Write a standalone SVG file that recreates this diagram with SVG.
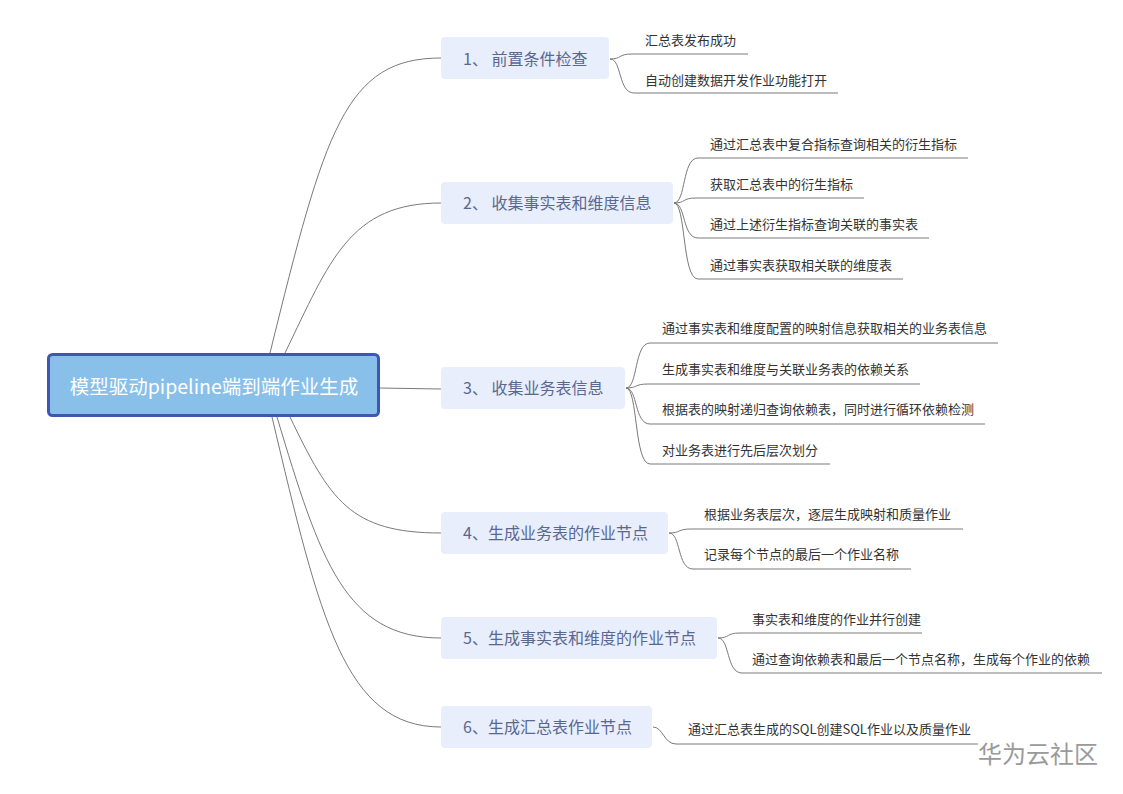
<svg xmlns="http://www.w3.org/2000/svg" width="1123" height="794" viewBox="0 0 1123 794">
<style>
.conn{fill:none;stroke:#7a7a7a;stroke-width:1}
.br rect{fill:#e8eefb}
.br text{font-family:"Noto Sans CJK SC","Noto Sans",sans-serif;font-size:16px;fill:#5a6891}
.leaf{font-family:"Noto Sans CJK SC","Noto Sans",sans-serif;font-size:13px;fill:#333}
</style>
<rect width="1123" height="794" fill="#ffffff"/>
<g id="connectors">
<path class="conn" d="M270,353 C325,130 345,58 441,58"/>
<path class="conn" d="M285,353 C330,260 350,203 441,203"/>
<path class="conn" d="M379,388 L441,389"/>
<path class="conn" d="M290,417 C330,500 350,533 441,533"/>
<path class="conn" d="M277,417 C320,560 345,638 441,638"/>
<path class="conn" d="M272,417 C320,620 345,727 441,727"/>
<path class="conn" d="M610,59 C622,59 618,54 632,54 L748,54"/>
<path class="conn" d="M610,59 C622,59 618,93 634,93 L838,93"/>
<path class="conn" d="M674,203 C686,203 682,158 698,158 L968,158"/>
<path class="conn" d="M674,203 C686,203 682,198 696,198 L864,198"/>
<path class="conn" d="M674,203 C686,203 682,238 698,238 L929,238"/>
<path class="conn" d="M674,203 C686,203 682,279 698,279 L903,279"/>
<path class="conn" d="M626,388 C638,388 634,343 650,343 L998,343"/>
<path class="conn" d="M626,388 C638,388 634,384 648,384 L920,384"/>
<path class="conn" d="M626,388 C638,388 634,424 650,424 L985,424"/>
<path class="conn" d="M626,388 C638,388 634,464 650,464 L830,464"/>
<path class="conn" d="M669,533 C681,533 677,529 691,529 L963,529"/>
<path class="conn" d="M669,533 C681,533 677,569 693,569 L911,569"/>
<path class="conn" d="M718,638 C730,638 726,633 740,633 L922,633"/>
<path class="conn" d="M718,638 C730,638 726,673 742,673 L1102,673"/>
<path class="conn" d="M653,727 C663,727 664,744 676,744 L978,744"/>
</g>
<g id="root">
<rect x="48.5" y="354.5" width="330" height="61" rx="4" fill="#88c0ea" stroke="#3f56b4" stroke-width="3"/>
<text x="214" y="394" text-anchor="middle" font-family="Noto Sans CJK SC,Noto Sans,sans-serif" font-size="19.5" fill="#ffffff">模型驱动pipeline端到端作业生成</text>
</g>
<g id="n1" class="br"><rect x="441" y="37" width="168" height="42" rx="4"/><text x="463" y="65">1、 前置条件检查</text></g>
<g id="n1a"><text class="leaf" x="645" y="45">汇总表发布成功</text></g>
<g id="n1b"><text class="leaf" x="645" y="85">自动创建数据开发作业功能打开</text></g>
<g id="n2" class="br"><rect x="441" y="182" width="232" height="42" rx="4"/><text x="463" y="209">2、 收集事实表和维度信息</text></g>
<g id="n2a"><text class="leaf" x="710" y="149">通过汇总表中复合指标查询相关的衍生指标</text></g>
<g id="n2b"><text class="leaf" x="710" y="189">获取汇总表中的衍生指标</text></g>
<g id="n2c"><text class="leaf" x="710" y="229">通过上述衍生指标查询关联的事实表</text></g>
<g id="n2d"><text class="leaf" x="710" y="270">通过事实表获取相关联的维度表</text></g>
<g id="n3" class="br"><rect x="441" y="367" width="184" height="42" rx="4"/><text x="463" y="394">3、 收集业务表信息</text></g>
<g id="n3a"><text class="leaf" x="662" y="333">通过事实表和维度配置的映射信息获取相关的业务表信息</text></g>
<g id="n3b"><text class="leaf" x="662" y="374">生成事实表和维度与关联业务表的依赖关系</text></g>
<g id="n3c"><text class="leaf" x="662" y="414">根据表的映射递归查询依赖表，同时进行循环依赖检测</text></g>
<g id="n3d"><text class="leaf" x="662" y="455">对业务表进行先后层次划分</text></g>
<g id="n4" class="br"><rect x="441" y="512" width="227" height="42" rx="4"/><text x="463" y="539">4、生成业务表的作业节点</text></g>
<g id="n4a"><text class="leaf" x="704" y="519">根据业务表层次，逐层生成映射和质量作业</text></g>
<g id="n4b"><text class="leaf" x="704" y="559">记录每个节点的最后一个作业名称</text></g>
<g id="n5" class="br"><rect x="441" y="617" width="276" height="42" rx="4"/><text x="463" y="644">5、生成事实表和维度的作业节点</text></g>
<g id="n5a"><text class="leaf" x="752" y="624">事实表和维度的作业并行创建</text></g>
<g id="n5b"><text class="leaf" x="752" y="664">通过查询依赖表和最后一个节点名称，生成每个作业的依赖</text></g>
<g id="n6" class="br"><rect x="441" y="706" width="211" height="42" rx="4"/><text x="463" y="733">6、生成汇总表作业节点</text></g>
<g id="n6a"><text class="leaf" x="688" y="734">通过汇总表生成的SQL创建SQL作业以及质量作业</text></g>
<text x="978" y="763" font-family="Noto Sans CJK SC,Noto Sans,sans-serif" font-size="24" fill="#9a9a9a">华为云社区</text>
</svg>
